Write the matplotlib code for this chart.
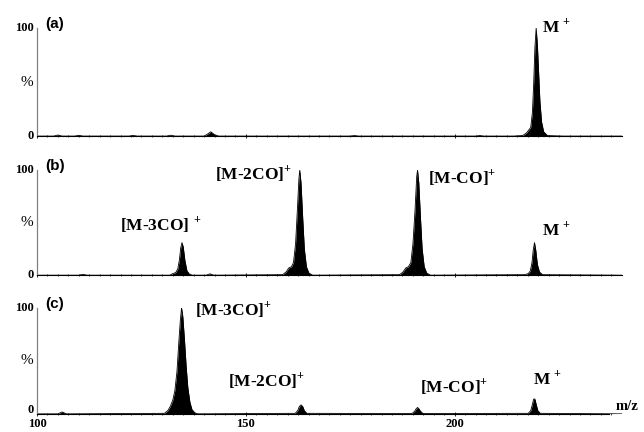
import matplotlib
matplotlib.use("Agg")
import matplotlib.pyplot as plt
import numpy as np

plt.rcParams["mathtext.fontset"] = "custom"
plt.rcParams["mathtext.rm"] = "Liberation Serif:bold"
plt.rcParams["mathtext.bf"] = "Liberation Serif:bold"

# ---------------------------------------------------------------------------
# Profile traces (m/z, relative intensity %)
# ---------------------------------------------------------------------------

mz_a = [100, 104, 105, 106, 109, 110, 111, 122, 123, 124, 131, 132, 133,
        140, 140.8, 141.6, 142.4, 143.5, 160, 175, 176, 177, 190, 205, 206, 207, 214,
        216.3, 217.2, 217.8, 218.2, 218.6, 218.9, 219.2, 219.5, 219.8, 220.1,
        220.4, 220.8, 221.3, 222.2, 226, 240]
int_a = [0, 0, 1.0, 0, 0, 0.7, 0, 0, 0.6, 0, 0, 0.8, 0,
         0, 1.8, 4.0, 1.5, 0, 0, 0, 0.5, 0, 0, 0, 0.5, 0, 0,
         0.5, 3, 6, 8, 22, 48, 82, 100, 84, 58,
         32, 13, 4, 0.5, 0, 0]

mz_b = [100, 110, 111, 112, 131.8, 132.5, 133.2, 133.7, 134.1, 134.4, 134.7,
        135.0, 135.4, 135.9, 136.5, 137.2, 140.5, 141.4, 142.3, 158.8, 159.6,
        160.3, 160.9, 161.4, 161.9, 162.3, 162.7, 162.9, 163.2, 163.6, 164.0,
        164.5, 165.1, 166.0, 186.8, 187.6, 188.3, 188.9, 189.5, 190.0, 190.5,
        190.9, 191.1, 191.4, 191.8, 192.2, 192.7, 193.3, 194.2, 216.8, 217.6,
        218.1, 218.5, 218.8, 219.1, 219.4, 219.8, 220.3, 221.0, 240]
int_b = [0, 0, 0.8, 0, 0, 1.5, 2.5, 6, 15, 26, 31,
         27, 14, 4, 1, 0, 0, 1.3, 0, 0.5, 3,
         7, 8, 12, 30, 60, 92, 100, 88, 55, 25,
         8, 2, 0, 0.5, 3, 7, 8, 12, 30, 62,
         94, 100, 88, 55, 25, 8, 2, 0, 0.5, 1.5,
         4, 12, 24, 31, 24, 10, 3, 0.5, 0]

mz_c = [100, 105, 106, 107, 130.5, 131.3, 131.9, 132.5, 133.0, 133.5, 133.9,
        134.3, 134.6, 134.9, 135.3, 135.7, 136.1, 136.6, 137.1, 137.8, 138.5,
        161.8, 162.4, 162.8, 163.2, 163.6, 164.0, 164.6, 189.8, 190.4, 190.8,
        191.1, 191.4, 191.8, 192.4, 217.6, 218.2, 218.6, 218.9, 219.2, 219.5,
        219.9, 220.5, 240]
int_c = [0, 0, 1.8, 0, 0.5, 3, 7, 13, 22, 40, 65,
         88, 100, 92, 70, 45, 25, 11, 4, 1, 0,
         0.5, 3, 7, 8.5, 7, 3, 0.5, 0.3, 2.5, 5,
         6, 5, 2.5, 0.3, 0.5, 3, 9, 14, 14, 9,
         3, 0.5, 0]

panels = [
    ("(a)", mz_a, int_a, [("M $^{+}$", 220.8, 96)]),
    ("(b)", mz_b, int_b, [("[M-3CO] $^{+}$", 119.9, 43),
                          ("[M-2CO]$^{+}$", 142.6, 92),
                          ("[M-CO]$^{+}$", 193.5, 88),
                          ("M $^{+}$", 221.0, 38)]),
    ("(c)", mz_c, int_c, [("[M-3CO]$^{+}$", 137.8, 93),
                          ("[M-2CO]$^{+}$", 145.7, 26),
                          ("[M-CO]$^{+}$", 191.6, 20.5),
                          ("M $^{+}$", 218.7, 28)]),
]

# axes rectangles in figure fractions (left, bottom, width, height)
RECTS = [
    (0.0575, 0.685, 0.908, 0.250),
    (0.0575, 0.363, 0.908, 0.243),
    (0.0575, 0.042, 0.908, 0.245),
]

SERIF = "Liberation Serif"

fig = plt.figure(figsize=(6.44, 4.32), dpi=100)

for idx, (tag, mz, inten, labels) in enumerate(panels):
    ax = fig.add_axes(RECTS[idx])
    ax.fill_between(mz, inten, 0, color="black", linewidth=0)
    ax.plot(mz, inten, color="black", linewidth=0.6)

    ax.set_xlim(100, 240)
    ax.set_ylim(0, 100)

    for side in ("top", "right"):
        ax.spines[side].set_visible(False)
    ax.spines["left"].set_color("0.5")
    ax.spines["left"].set_linewidth(0.9)
    ax.spines["bottom"].set_linewidth(0.8)
    if idx == 2:
        ax.spines["bottom"].set_bounds(100, 237)

    # y labels drawn by hand: 100 / % / 0
    ax.set_yticks([])
    ylab_kw = dict(xycoords=("axes fraction", "data"), textcoords="offset points",
                   ha="right", va="center", fontfamily=SERIF)
    ax.annotate("100", (0, 100), xytext=(-2.5, 0), fontweight="bold",
                fontsize=9, **ylab_kw)
    ax.annotate("%", (0, 50), xytext=(-2.5, 0), fontsize=11, **ylab_kw)
    ax.annotate("0", (0, 0), xytext=(-2.5, 2.5 if idx == 2 else 0),
                fontweight="bold", fontsize=9, **ylab_kw)

    ax.set_xticks([100, 150, 200])
    ax.set_xticks(np.arange(100, 238, 2.5), minor=True)
    ax.tick_params(axis="x", which="major", direction="inout", length=3,
                   width=0.6, pad=1.5)
    ax.tick_params(axis="x", which="minor", direction="inout", length=2,
                   width=0.5)
    if idx == 2:
        ax.set_xticklabels(["100", "150", "200"], fontfamily=SERIF,
                           fontweight="bold", fontsize=9)
        ax.text(238.5, 0.5, "m/z", fontfamily=SERIF, fontweight="bold",
                fontsize=10.5, ha="left", va="bottom")
    else:
        ax.set_xticklabels([])

    ax.text(0.014, 1.04, tag, transform=ax.transAxes, fontfamily="Liberation Sans",
            fontweight="bold", fontsize=11, ha="left", va="center")

    for txt, x, y in labels:
        ax.text(x, y, txt, fontfamily=SERIF, fontweight="bold", fontsize=12.5,
                ha="left", va="baseline", clip_on=False)

fig.savefig("out.png", dpi=100)
